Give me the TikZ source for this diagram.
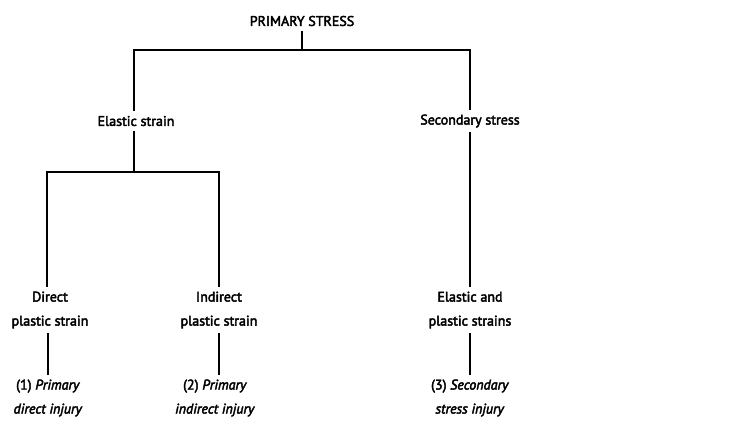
\documentclass[tikz,border=0pt]{standalone}
\usepackage{fontspec}
\setmainfont{PT Sans}[FakeBold=3]
\begin{document}
\begin{tikzpicture}[x=1pt,y=-1pt,
  lbl/.style={font=\fontsize{14}{24}\selectfont, align=center, inner sep=0pt, outer sep=5pt},
  link/.style={line width=1.3pt, black}]
\useasboundingbox (0,0) rectangle (731,423);
\node[lbl] (ps) at (302,21) {PRIMARY STRESS};
\node[lbl] (es) at (136,121) {Elastic strain};
\node[lbl] (ss) at (470,121) {Secondary stress};
\node[lbl] (dp) at (50,310) {Direct\\plastic strain};
\node[lbl] (ip) at (219,310) {Indirect\\plastic strain};
\node[lbl] (ep) at (470,310) {Elastic and\\plastic strains};
\node[lbl] (r1) at (48,398) {(1) \textit{Primary}\\\textit{direct injury}};
\node[lbl] (r2) at (215,398) {(2) \textit{Primary}\\\textit{indirect injury}};
\node[lbl] (r3) at (470,398) {(3) \textit{Secondary}\\\textit{stress injury}};
\coordinate (j1) at (302,50);
\coordinate (j2) at (134,172);
\draw[link] (ps.south) -- (j1) -| ([xshift=-2pt]es.north);
\draw[link] (j1) -| (ss.north);
\draw[link] ([xshift=-2pt]es.south) -- (j2) -| ([xshift=-3pt]dp.north);
\draw[link] (j2) -| (ip.north);
\draw[link] (ss.south) -- (ep.north);
\draw[link] ([xshift=-2pt]dp.south) -- ([xshift=-2pt]dp.south |- r1.north);
\draw[link] (ip.south) -- (ip.south |- r2.north);
\draw[link] (ep.south) -- (r3.north);
\end{tikzpicture}
\end{document}
